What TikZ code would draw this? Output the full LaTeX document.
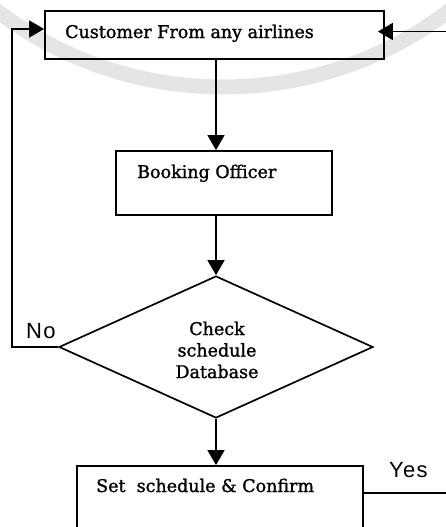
\documentclass[tikz,border=0pt]{standalone}
\usepackage{fontspec}
\setmainfont{DejaVu Serif}[BoldFont={DejaVu Serif}, BoldFeatures={FakeBold=1.3}]
\newfontfamily\labelsans{Liberation Sans}[LetterSpace=6]
\usetikzlibrary{shapes.geometric,arrows.meta}
\begin{document}
\begin{tikzpicture}[x=1pt,y=-1pt,
  box/.style={draw, line width=1.8pt, rectangle, inner sep=0pt},
  decision/.style={draw, line width=1.7pt, diamond, inner sep=0pt},
  boxtext/.style={anchor=base west, inner sep=0pt, font=\bfseries\fontsize{17.5}{22}\selectfont},
  flow/.style={line width=1.6pt, -{Triangle[length=15pt,width=17pt]}},
  answer/.style={anchor=base west, inner sep=0pt, font=\labelsans\fontsize{22}{24}\selectfont},
  seal/.style={draw=black!10, line width=15pt}]
\useasboundingbox (0,0) rectangle (446,527);
\clip (0,0) rectangle (446,527);

% faint seal arc in the background
\draw[seal] (223,-286) circle[radius=373pt];

% process boxes and the decision
\node[box, minimum width=339pt, minimum height=48pt] (cust) at (214.5,35) {};
\node[box, minimum width=216pt, minimum height=64pt] (book) at (224,183) {};
\node[decision, minimum width=314pt, minimum height=142pt] (dia) at (216,347) {};
\node[box, minimum width=286pt, minimum height=134pt] (set) at (220,533) {};

% texts
\node[boxtext] (custtext) at (65,38) {Customer From any airlines};
\node[boxtext] (booktext) at (137,178) {Booking Officer};
\node[align=center, inner sep=0pt, font=\bfseries\fontsize{17.5}{21.5}\selectfont] (diatext) at (217,350) {Check\\schedule\\Database};
\node[boxtext] (settext) at (96,492) {Set\ \ schedule \& Confirm};
\node[answer] (no) at (26,338) {No};
\node[answer] (yes) at (389,477) {Yes};

% routing points
\coordinate (spine) at (216,0);
\coordinate (loopL) at (12,347);
\coordinate (loopTop) at (12,29);
\coordinate (yesR) at (470,493);
\coordinate (topR) at (470,31.5);

% connectors
\draw[flow] (cust.south -| spine) -- (book.north -| spine);
\draw[flow] (book.south -| spine) -- (dia.north);
\draw[flow] (dia.south) -- (set.north -| spine);
\draw[flow] (dia.west) -- (loopL) |- (cust.west |- loopTop);
\draw[flow, shorten >=-7pt] (set.east |- yesR) -- (yesR) -- (topR) -- (cust.east |- topR);
\end{tikzpicture}
\end{document}
